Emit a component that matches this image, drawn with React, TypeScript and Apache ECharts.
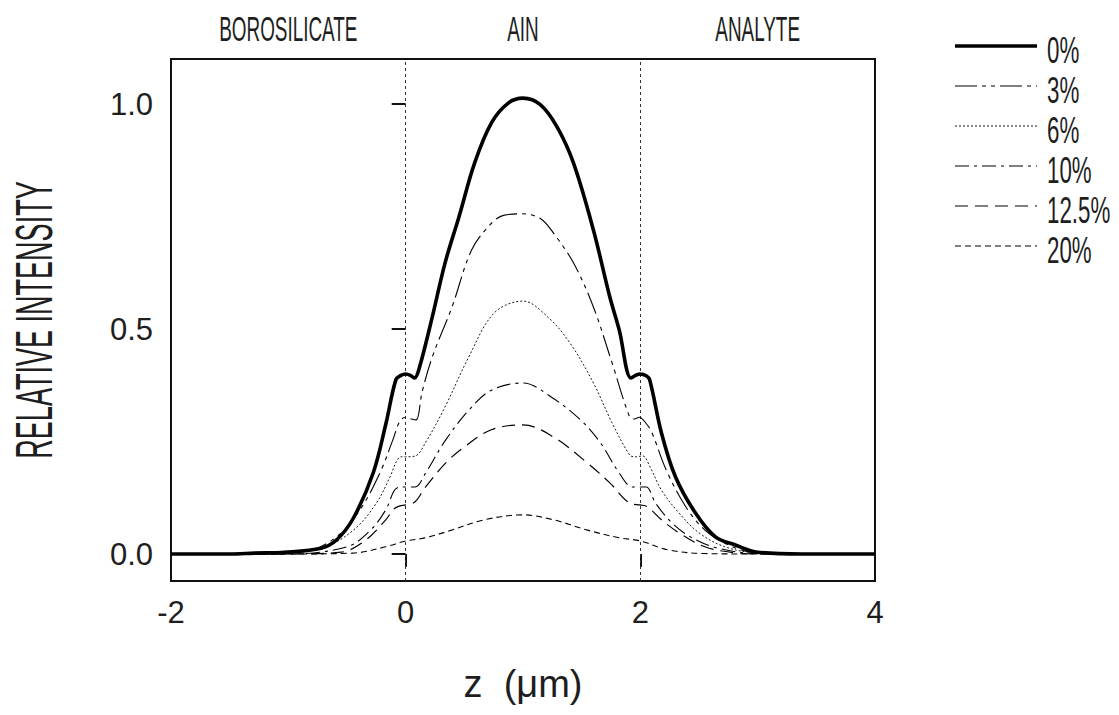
import React, { useEffect, useRef } from "react";
import * as echarts from "echarts";

const FONT = "'Liberation Sans', Arial, sans-serif";
const INK = "#1e1e1e";

const seriesNames = ["0%", "3%", "6%", "10%", "12.5%", "20%"];
const regionTicks = [-1, 1, 3];
const regionLabels = ["BOROSILICATE", "AIN", "ANALYTE"];
const yTicks = [0, 0.5, 1.0];
const boundaries = [0, 2];

const s0: number[][] = [
  [-2, 0], [-1.5, 0], [-1.29, 0.002], [-1.03, 0.004], [-0.72, 0.013], [-0.59, 0.031], [-0.445, 0.08],
  [-0.277, 0.18], [-0.168, 0.29], [-0.084, 0.387], [-0.04, 0.397], [0, 0.4], [0.04, 0.397],
  [0.076, 0.391], [0.118, 0.415], [0.227, 0.527], [0.336, 0.647], [0.454, 0.749], [0.588, 0.869],
  [0.731, 0.958], [0.874, 1.002], [1.0, 1.013], [1.15, 0.998], [1.29, 0.949], [1.43, 0.869],
  [1.6, 0.72], [1.74, 0.571], [1.82, 0.498], [1.92, 0.391], [1.96, 0.397], [2.0, 0.4],
  [2.05, 0.396], [2.08, 0.387], [2.18, 0.269], [2.3, 0.171], [2.47, 0.091], [2.64, 0.038],
  [2.81, 0.02], [3.0, 0.004], [3.38, 0], [4, 0],
];
const s3: number[][] = [
  [-2, 0], [-1.2, 0], [-0.87, 0.004], [-0.59, 0.038], [-0.39, 0.098], [-0.22, 0.18], [-0.11, 0.253],
  [-0.05, 0.295], [0, 0.304], [0.05, 0.3], [0.09, 0.298], [0.14, 0.36], [0.227, 0.438],
  [0.395, 0.549], [0.563, 0.676], [0.731, 0.735], [0.84, 0.753], [1.0, 0.756], [1.15, 0.745],
  [1.26, 0.713], [1.43, 0.647], [1.6, 0.549], [1.76, 0.424], [1.91, 0.304], [1.95, 0.3],
  [1.99, 0.304], [2.05, 0.29], [2.1, 0.269], [2.22, 0.187], [2.39, 0.104], [2.55, 0.053],
  [2.72, 0.024], [2.94, 0.004], [3.2, 0], [4, 0],
];
const s6: number[][] = [
  [-2, 0], [-1.2, 0], [-0.72, 0.013], [-0.445, 0.053], [-0.25, 0.113], [-0.134, 0.171],
  [-0.08, 0.205], [-0.04, 0.216], [0, 0.216], [0.084, 0.218], [0.168, 0.247], [0.336, 0.327],
  [0.538, 0.438], [0.756, 0.536], [1.0, 0.562], [1.21, 0.527], [1.4, 0.469], [1.6, 0.38],
  [1.76, 0.291], [1.91, 0.22], [1.96, 0.216], [2.02, 0.218], [2.08, 0.195], [2.18, 0.142],
  [2.33, 0.091], [2.5, 0.047], [2.72, 0.016], [3.0, 0.002], [3.3, 0], [4, 0],
];
const s10: number[][] = [
  [-2, 0], [-1.0, 0], [-0.5, 0.016], [-0.3, 0.053], [-0.17, 0.098], [-0.1, 0.14], [-0.06, 0.148],
  [0, 0.149], [0.08, 0.149], [0.17, 0.18], [0.34, 0.253], [0.54, 0.32], [0.73, 0.364], [1.0, 0.38],
  [1.24, 0.349], [1.49, 0.298], [1.66, 0.247], [1.82, 0.18], [1.93, 0.149], [2.0, 0.149],
  [2.05, 0.149], [2.13, 0.113], [2.27, 0.069], [2.44, 0.036], [2.66, 0.013], [3.0, 0.001], [4, 0],
];
const s125: number[][] = [
  [-2, 0], [-1.0, 0], [-0.55, 0.004], [-0.34, 0.031], [-0.17, 0.076], [-0.1, 0.1], [-0.05, 0.107],
  [0, 0.109], [0.08, 0.116], [0.17, 0.149], [0.34, 0.202], [0.5, 0.238], [0.73, 0.276], [1.0, 0.287],
  [1.26, 0.26], [1.55, 0.202], [1.74, 0.158], [1.91, 0.113], [2.0, 0.109], [2.06, 0.105],
  [2.18, 0.076], [2.33, 0.047], [2.55, 0.016], [2.8, 0.003], [3.1, 0], [4, 0],
];
const s20: number[][] = [
  [-2, 0], [-1.0, 0], [-0.45, 0.002], [-0.17, 0.016], [0, 0.029], [0.17, 0.036], [0.39, 0.053],
  [0.67, 0.076], [1.0, 0.087], [1.26, 0.076], [1.55, 0.053], [1.82, 0.036], [2.0, 0.029],
  [2.24, 0.009], [2.55, 0.001], [3.0, 0], [4, 0],
];

const seriesData = [s0, s3, s6, s10, s125, s20];
const lineWidths = [3.6, 1.1, 0.9, 1.1, 1.2, 1.1];
const lineDashes: (number[] | null)[] = [
  null,
  [22, 5, 4, 5, 4, 5],
  [2, 2],
  [14, 5, 3, 5],
  [13, 7],
  [6, 4],
];

export default function App() {
  const ref = useRef<HTMLDivElement>(null);
  useEffect(() => {
    if (!ref.current) return;
    const chart = echarts.init(ref.current, null, { renderer: "svg" });
    const textBase = { fontFamily: FONT, color: INK };
    const series: any[] = seriesNames.map((name, i) => ({
      name,
      type: "line",
      data: seriesData[i],
      showSymbol: false,
      symbol: "none",
      smooth: 0.35,
      lineStyle: { color: "#000", width: lineWidths[i], type: lineDashes[i] || "solid" },
      itemStyle: { color: "#000" },
      z: 10 - i,
    }));
    series[0].markLine = {
      silent: true,
      symbol: "none",
      label: { show: false },
      lineStyle: { color: "#333", type: [3, 3], width: 1 },
      data: boundaries.map((b) => ({ xAxis: b })),
    };
    const yMin = -0.06;
    const yMax = 1.1;
    chart.setOption({
      animation: false,
      backgroundColor: "#fff",
      grid: {
        left: 171,
        right: 244,
        top: 59,
        bottom: 134,
        show: true,
        borderColor: "#111",
        borderWidth: 2,
        containLabel: false,
        outerBoundsMode: "none",
      },
      xAxis: [
        {
          type: "value",
          min: -2,
          max: 4,
          interval: 2,
          position: "bottom",
          axisLine: { show: false },
          axisTick: { show: true, length: 13, lineStyle: { color: "#111", width: 2 } },
          splitLine: { show: false },
          axisLabel: { ...textBase, fontSize: 31, margin: 16 },
          name: "z  (\u03bcm)",
          nameLocation: "middle",
          nameGap: 84,
          nameTextStyle: { ...textBase, fontSize: 38 },
        },
      ],
      yAxis: {
        type: "value",
        min: yMin,
        max: yMax,
        axisLine: { show: false },
        axisTick: { show: true, length: 14, customValues: yTicks, lineStyle: { color: "#111", width: 2 } },
        splitLine: { show: false },
        axisLabel: {
          ...textBase,
          fontSize: 31,
          margin: 18,
          customValues: yTicks,
          formatter: (v: number) => v.toFixed(1),
        },
      },
      series,
    });

    // Texts in the narrow, tall lettering of the original, placed via the axes' scales
    const xPx = (v: number) => chart.convertToPixel({ xAxisIndex: 0 }, v) as number;
    const yPx = (v: number) => chart.convertToPixel({ yAxisIndex: 0 }, v) as number;
    const graphic: any[] = [];
    regionLabels.forEach((label, i) => {
      graphic.push({
        type: "text",
        x: xPx(regionTicks[i]),
        y: 29,
        scaleX: 0.54,
        style: {
          text: label,
          fontFamily: FONT,
          fontSize: 35,
          fill: INK,
          align: "center",
          verticalAlign: "middle",
        },
      });
    });
    graphic.push({
      type: "text",
      x: 34,
      y: yPx((yMin + yMax) / 2),
      rotation: Math.PI / 2,
      scaleX: 0.52,
      style: {
        text: "RELATIVE INTENSITY",
        fontFamily: FONT,
        fontSize: 52,
        fill: INK,
        align: "center",
        verticalAlign: "middle",
      },
    });
    // legend
    const legendX = 955;
    const legendW = 82;
    const legendTop = 46;
    const legendStep = 40;
    seriesNames.forEach((name, i) => {
      const y = legendTop + i * legendStep;
      graphic.push({
        type: "line",
        shape: { x1: legendX, y1: y, x2: legendX + legendW, y2: y },
        style: {
          stroke: "#000",
          lineWidth: lineWidths[i],
          lineDash: lineDashes[i] || undefined,
        },
      });
      graphic.push({
        type: "text",
        x: legendX + legendW + 10,
        y: y + 4,
        scaleX: 0.62,
        style: {
          text: name,
          fontFamily: FONT,
          fontSize: 36,
          fill: INK,
          align: "left",
          verticalAlign: "middle",
        },
      });
    });
    chart.setOption({ graphic });
    return () => chart.dispose();
  }, []);
  return (
    <div
      ref={ref}
      style={{ position: "fixed", left: 0, top: 0, width: 1119, height: 715, background: "#fff" }}
    />
  );
}
